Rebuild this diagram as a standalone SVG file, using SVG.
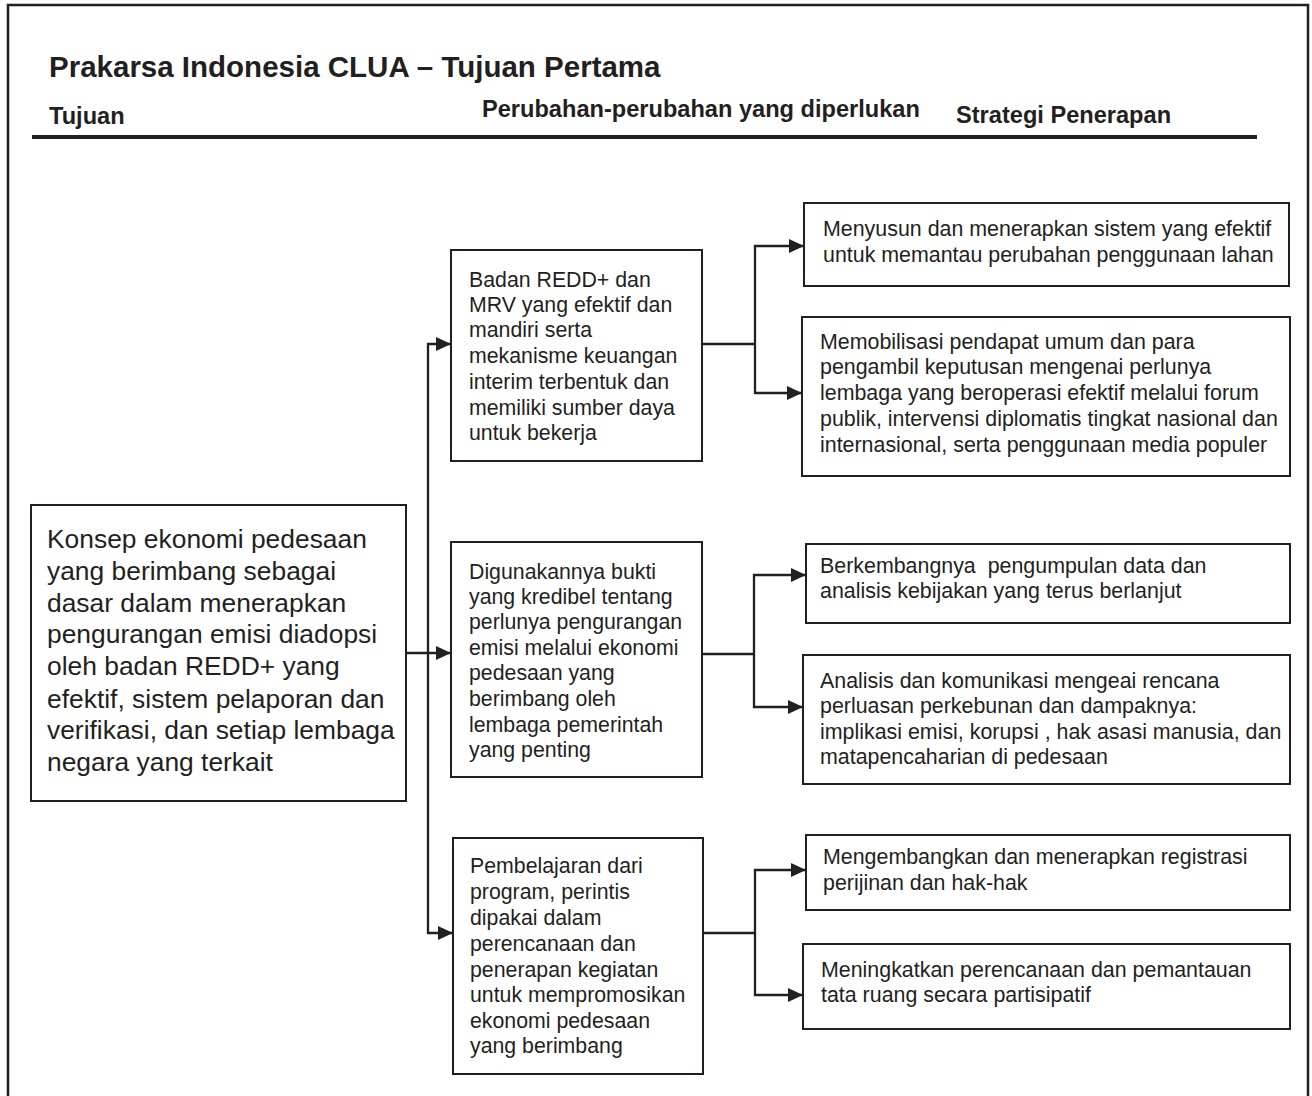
<svg xmlns="http://www.w3.org/2000/svg" width="1312" height="1096" viewBox="0 0 1312 1096">
<style>
text{font-family:"Liberation Sans",Arial,Helvetica,sans-serif;fill:#231f20}
.title{font-weight:bold;font-size:29.5px}
.hdr{font-weight:bold;font-size:23.6px}
.goal{font-size:26.4px}
.mid{font-size:21.3px}
.str{font-size:21.4px}
.box{fill:#fff;stroke:#231f20;stroke-width:2}
.con{fill:none;stroke:#231f20;stroke-width:2.3}
</style>
<defs>
<marker id="arr" viewBox="0 0 15 14" refX="15" refY="7" markerWidth="15" markerHeight="14" markerUnits="userSpaceOnUse" orient="auto">
<path d="M0,0 L15,7 L0,14 z" fill="#231f20"/>
</marker>
</defs>
<rect x="0" y="0" width="1312" height="1096" fill="#fff"/>
<rect x="8" y="5" width="1300" height="1110" fill="none" stroke="#231f20" stroke-width="2.5"/>
<g id="header">
<text class="title" x="49" y="77">Prakarsa Indonesia CLUA – Tujuan Pertama</text>
<text class="hdr" x="49" y="124">Tujuan</text>
<text class="hdr" x="482" y="117">Perubahan-perubahan yang diperlukan</text>
<text class="hdr" x="956" y="123">Strategi Penerapan</text>
<line x1="32" y1="137" x2="1257" y2="137" stroke="#231f20" stroke-width="4"/>
</g>
<g id="connectors">
<path class="con" d="M406,653 H451" marker-end="url(#arr)"/>
<path class="con" d="M428,653 V344 H451" marker-end="url(#arr)"/>
<path class="con" d="M428,653 V933 H453" marker-end="url(#arr)"/>
<path class="con" d="M702,344 H755"/>
<path class="con" d="M755,344 V246 H804" marker-end="url(#arr)"/>
<path class="con" d="M755,344 V393 H802" marker-end="url(#arr)"/>
<path class="con" d="M702,654 H754"/>
<path class="con" d="M754,654 V575 H806" marker-end="url(#arr)"/>
<path class="con" d="M754,654 V707 H803" marker-end="url(#arr)"/>
<path class="con" d="M703,933 H755"/>
<path class="con" d="M755,933 V870 H806" marker-end="url(#arr)"/>
<path class="con" d="M755,933 V995 H803" marker-end="url(#arr)"/>
</g>
<g id="goal">
<rect class="box" x="31" y="505" width="375" height="296"/>
<text class="goal" x="47" y="548">Konsep ekonomi pedesaan</text>
<text class="goal" x="47" y="580">yang berimbang sebagai</text>
<text class="goal" x="47" y="612">dasar dalam menerapkan</text>
<text class="goal" x="47" y="643">pengurangan emisi diadopsi</text>
<text class="goal" x="47" y="675">oleh badan REDD+ yang</text>
<text class="goal" x="47" y="708">efektif, sistem pelaporan dan</text>
<text class="goal" x="47" y="739">verifikasi, dan setiap lembaga</text>
<text class="goal" x="47" y="771">negara yang terkait</text>
</g>
<g id="change1">
<rect class="box" x="451" y="250" width="251" height="211"/>
<text class="mid" x="469" y="287">Badan REDD+ dan</text>
<text class="mid" x="469" y="312">MRV yang efektif dan</text>
<text class="mid" x="469" y="337">mandiri serta</text>
<text class="mid" x="469" y="363">mekanisme keuangan</text>
<text class="mid" x="469" y="389">interim terbentuk dan</text>
<text class="mid" x="469" y="415">memiliki sumber daya</text>
<text class="mid" x="469" y="440">untuk bekerja</text>
</g>
<g id="change2">
<rect class="box" x="451" y="542" width="251" height="235"/>
<text class="mid" x="469" y="579">Digunakannya bukti</text>
<text class="mid" x="469" y="604">yang kredibel tentang</text>
<text class="mid" x="469" y="629">perlunya pengurangan</text>
<text class="mid" x="469" y="655">emisi melalui ekonomi</text>
<text class="mid" x="469" y="680">pedesaan yang</text>
<text class="mid" x="469" y="706">berimbang oleh</text>
<text class="mid" x="469" y="732">lembaga pemerintah</text>
<text class="mid" x="469" y="757">yang penting</text>
</g>
<g id="change3">
<rect class="box" x="453" y="838" width="250" height="236"/>
<text class="mid" x="470" y="873">Pembelajaran dari</text>
<text class="mid" x="470" y="899">program, perintis</text>
<text class="mid" x="470" y="925">dipakai dalam</text>
<text class="mid" x="470" y="951">perencanaan dan</text>
<text class="mid" x="470" y="977">penerapan kegiatan</text>
<text class="mid" x="470" y="1002">untuk mempromosikan</text>
<text class="mid" x="470" y="1028">ekonomi pedesaan</text>
<text class="mid" x="470" y="1053">yang berimbang</text>
</g>
<g id="strategy1">
<rect class="box" x="804" y="203" width="485" height="83"/>
<text class="str" x="823" y="236">Menyusun dan menerapkan sistem yang efektif</text>
<text class="str" x="823" y="262">untuk memantau perubahan penggunaan lahan</text>
</g>
<g id="strategy2">
<rect class="box" x="802" y="317" width="488" height="159"/>
<text class="str" x="820" y="349">Memobilisasi pendapat umum dan para</text>
<text class="str" x="820" y="374">pengambil keputusan mengenai perlunya</text>
<text class="str" x="820" y="400">lembaga yang beroperasi efektif melalui forum</text>
<text class="str" x="820" y="426">publik, intervensi diplomatis tingkat nasional dan</text>
<text class="str" x="820" y="452">internasional, serta penggunaan media populer</text>
</g>
<g id="strategy3">
<rect class="box" x="806" y="544" width="484" height="79"/>
<text class="str" x="820" y="573" xml:space="preserve">Berkembangnya  pengumpulan data dan</text>
<text class="str" x="820" y="598">analisis kebijakan yang terus berlanjut</text>
</g>
<g id="strategy4">
<rect class="box" x="803" y="655" width="487" height="129"/>
<text class="str" x="820" y="688">Analisis dan komunikasi mengeai rencana</text>
<text class="str" x="820" y="713">perluasan perkebunan dan dampaknya:</text>
<text class="str" x="820" y="739">implikasi emisi, korupsi , hak asasi manusia, dan</text>
<text class="str" x="820" y="764">matapencaharian di pedesaan</text>
</g>
<g id="strategy5">
<rect class="box" x="806" y="835" width="484" height="75"/>
<text class="str" x="823" y="864">Mengembangkan dan menerapkan registrasi</text>
<text class="str" x="823" y="890">perijinan dan hak-hak</text>
</g>
<g id="strategy6">
<rect class="box" x="803" y="944" width="487" height="85"/>
<text class="str" x="821" y="977">Meningkatkan perencanaan dan pemantauan</text>
<text class="str" x="821" y="1002">tata ruang secara partisipatif</text>
</g>
</svg>
